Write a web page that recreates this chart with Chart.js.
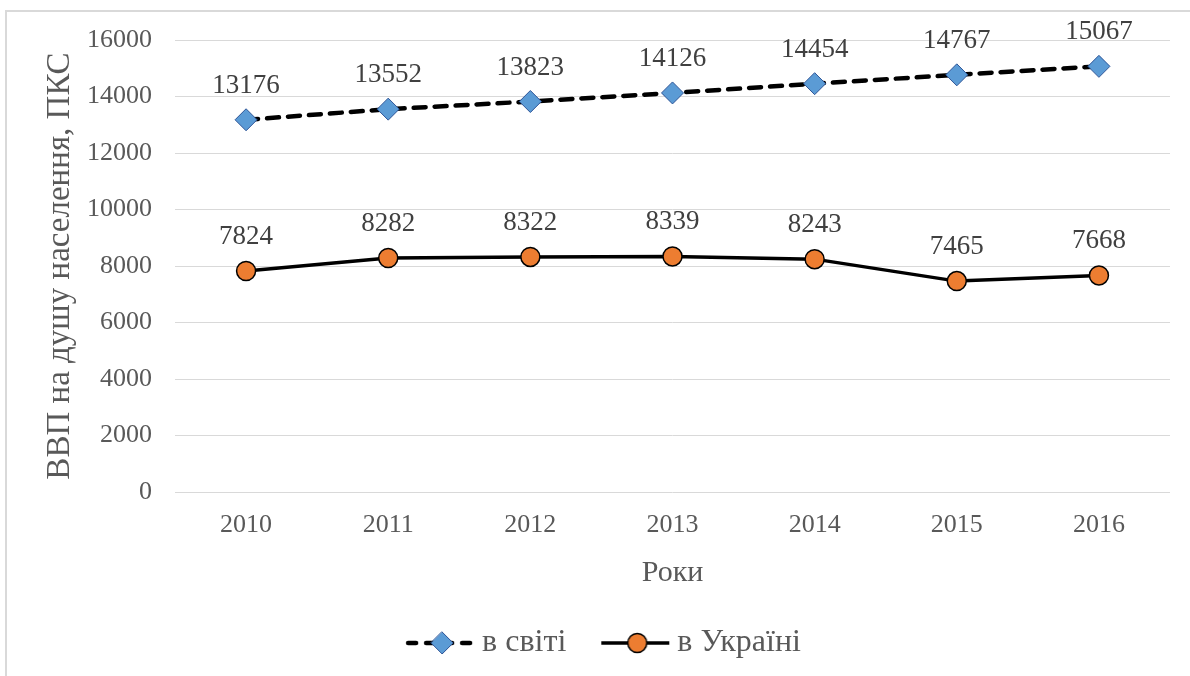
<!DOCTYPE html>
<html>
<head>
<meta charset="utf-8">
<script src="https://cdn.jsdelivr.net/npm/chart.js@4"></script>
<style>
  body { margin: 0; background: #fff; }
  #wrap { width: 1190px; height: 676px; }
</style>
</head>
<body>
<div id="wrap"><canvas id="myChart" width="1190" height="676"></canvas></div>
<script>
var years = ["2010", "2011", "2012", "2013", "2014", "2015", "2016"];
var worldValues = [13176, 13552, 13823, 14126, 14454, 14767, 15067];
var ukraineValues = [7824, 8282, 8322, 8339, 8243, 7465, 7668];
var seriesNames = ["в світі", "в Україні"];

var serif = "'Liberation Serif', 'Times New Roman', serif";
var textGray = "#595959";

// little legend pictures: line with marker, like in Excel
function legendIcon(dashed, marker) {
  var c = document.createElement('canvas');
  c.width = 76; c.height = 24;
  var g = c.getContext('2d');
  g.strokeStyle = '#000';
  g.lineWidth = dashed ? 4.5 : 3.5;
  g.lineCap = dashed ? 'round' : 'butt';
  if (dashed) g.setLineDash([8, 10]);
  g.beginPath(); g.moveTo(dashed ? 8 : 6, 12); g.lineTo(74, 12); g.stroke();
  g.setLineDash([]);
  g.lineWidth = 1;
  if (marker === 'diamond') {
    g.fillStyle = '#5b9bd5'; g.strokeStyle = '#2f5597';
    g.beginPath(); g.moveTo(42, 1); g.lineTo(53, 12); g.lineTo(42, 23); g.lineTo(31, 12); g.closePath();
    g.fill(); g.stroke();
  } else {
    g.fillStyle = '#ed7d31'; g.strokeStyle = '#000'; g.lineWidth = 1.5;
    g.beginPath(); g.arc(42, 12, 9.5, 0, Math.PI * 2); g.fill(); g.stroke();
  }
  return c;
}
var icons = [legendIcon(true, 'diamond'), legendIcon(false, 'circle')];

const valueLabels = {
  id: 'valueLabels',
  afterDatasetsDraw(chart) {
    const ctx = chart.ctx;
    ctx.save();
    ctx.font = "27px " + serif;
    ctx.fillStyle = "#404040";
    ctx.textAlign = 'center';
    ctx.textBaseline = 'alphabetic';
    chart.data.datasets.forEach((ds, i) => {
      chart.getDatasetMeta(i).data.forEach((pt, j) => {
        ctx.fillText(String(ds.data[j]), pt.x, pt.y - 27);
      });
    });
    ctx.restore();
  }
};

const frame = {
  id: 'frame',
  beforeDraw(chart) {
    const ctx = chart.ctx;
    ctx.save();
    ctx.strokeStyle = '#d9d9d9';
    ctx.lineWidth = 2;
    ctx.strokeRect(6, 11, 1200, 700);
    ctx.restore();
  }
};

const ctx = document.getElementById('myChart').getContext('2d');
let myChart = new Chart(ctx, {
  type: "line",
  data: {
    labels: years,
    datasets: [{
      label: seriesNames[0],
      data: worldValues,
      borderColor: '#000',
      borderWidth: 4.5,
      borderDash: [12, 9],
      borderCapStyle: 'round',
      pointStyle: 'rectRot',
      pointRadius: 11,
      pointHoverRadius: 11,
      pointBackgroundColor: '#5b9bd5',
      pointBorderColor: '#2f5597',
      pointBorderWidth: 1,
      tension: 0
    }, {
      label: seriesNames[1],
      data: ukraineValues,
      borderColor: '#000',
      borderWidth: 3.5,
      pointStyle: 'circle',
      pointRadius: 9.5,
      pointHoverRadius: 9.5,
      pointBackgroundColor: '#ed7d31',
      pointBorderColor: '#000',
      pointBorderWidth: 1.5,
      tension: 0
    }]
  },
  options: {
    responsive: false,
    animation: false,
    layout: {
      padding: {left: 41, top: 40, right: 20, bottom: 7}
    },
    scales: {
      y: {
        min: 0,
        max: 16000,
        ticks: {
          stepSize: 2000,
          padding: 23,
          color: textGray,
          font: {family: serif, size: 26},
          callback: (v) => String(v)
        },
        grid: {color: '#d9d9d9', lineWidth: 1, drawTicks: false},
        border: {display: false},
        title: {
          display: true,
          text: 'ВВП на душу населення, ПКС',
          color: textGray,
          font: {family: serif, size: 33},
          padding: 0
        },
        afterFit(scale) { scale.width = 134; }
      },
      x: {
        offset: true,
        ticks: {
          padding: 18,
          color: textGray,
          font: {family: serif, size: 26}
        },
        grid: {display: false, drawTicks: false},
        border: {display: false},
        title: {
          display: true,
          text: 'Роки',
          color: textGray,
          font: {family: serif, size: 30, lineHeight: 1},
          padding: {top: 0, bottom: 0}
        },
        afterFit(scale) { scale.height = 96; }
      }
    },
    plugins: {
      legend: {
        display: true,
        position: 'bottom',
        labels: {
          usePointStyle: true,
          pointStyleWidth: 56,
          padding: 39,
          color: textGray,
          font: {family: serif, size: 32},
          generateLabels(chart) {
            return chart.data.datasets.map((ds, i) => ({
              text: ds.label,
              pointStyle: icons[i],
              fillStyle: 'transparent',
              strokeStyle: 'transparent',
              lineWidth: 0,
              fontColor: textGray,
              datasetIndex: i
            }));
          }
        }
      },
      tooltip: {enabled: false}
    }
  },
  plugins: [valueLabels, frame]
});
</script>
</body>
</html>
